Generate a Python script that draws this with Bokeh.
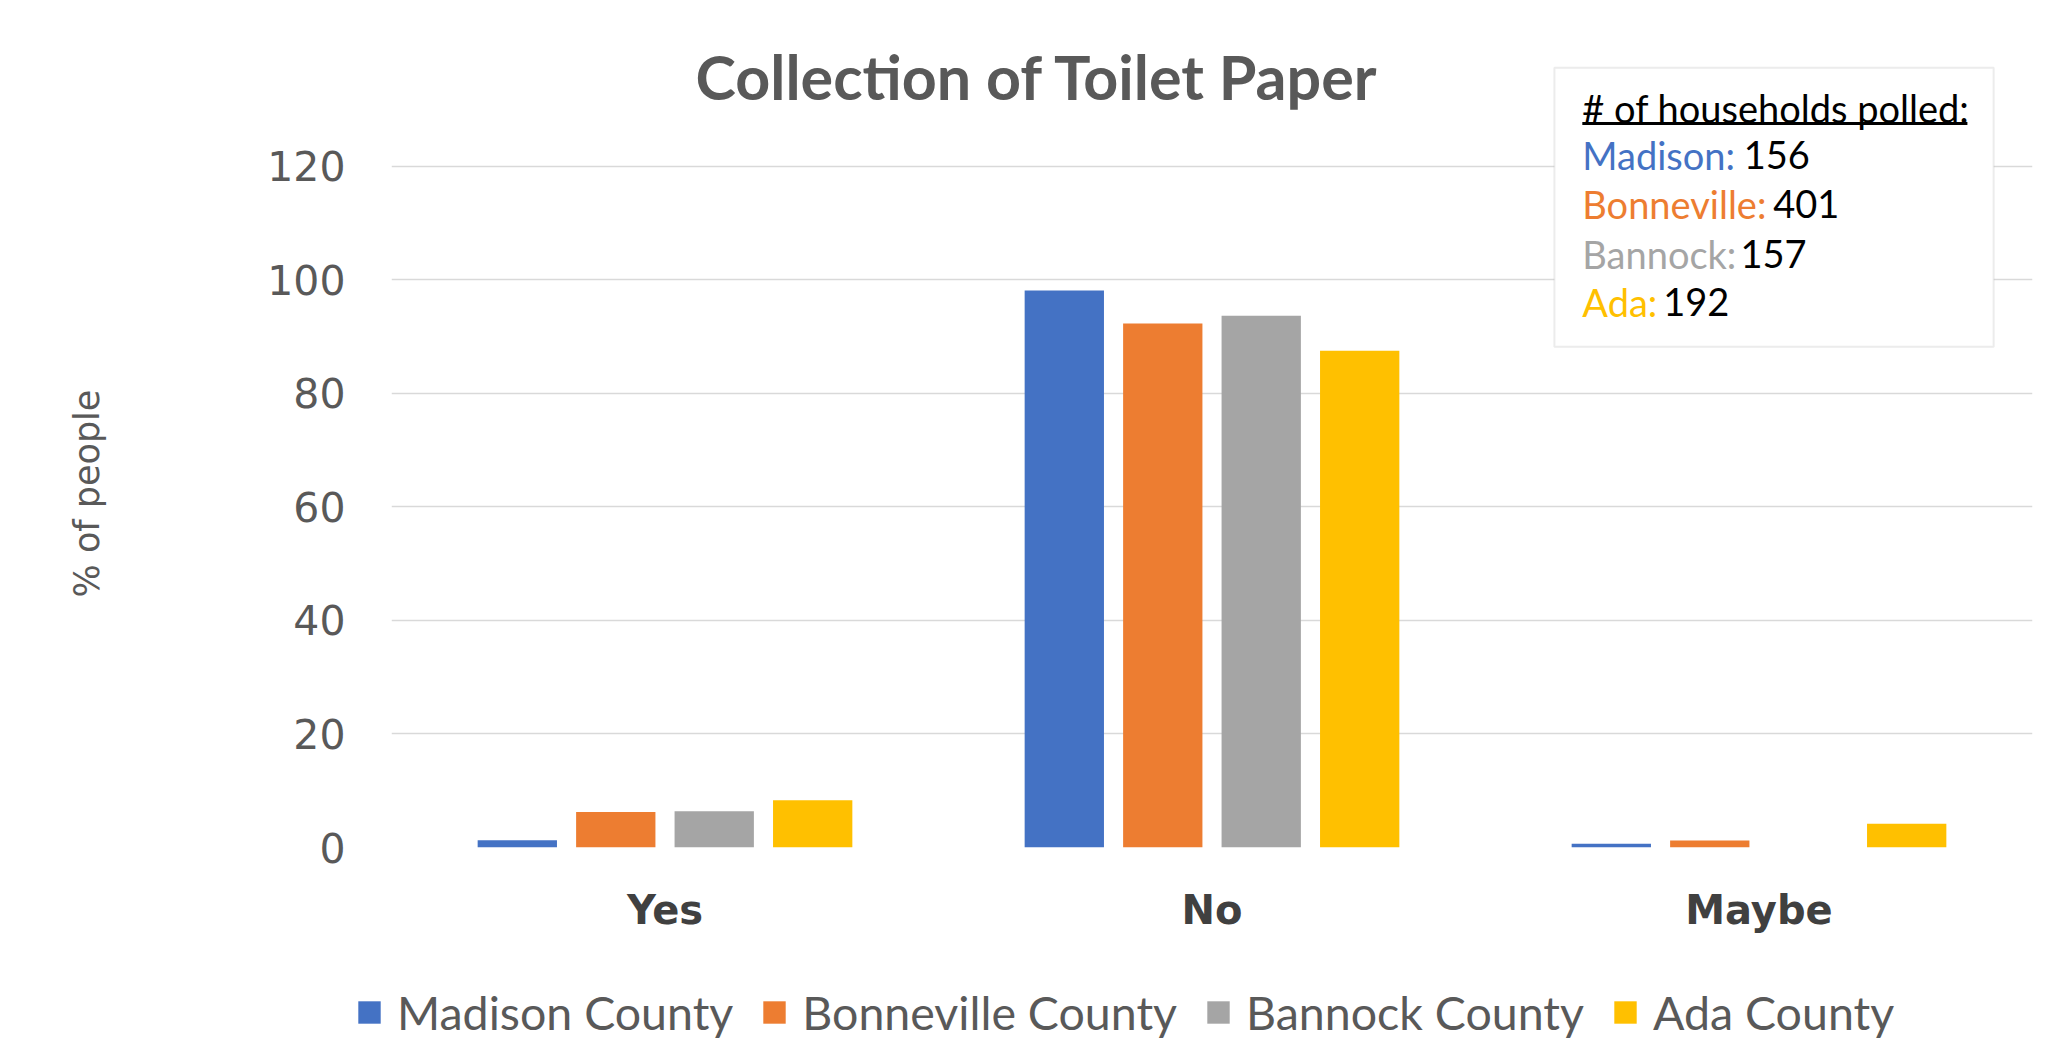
from bokeh.plotting import figure
from bokeh.layouts import column
from bokeh.models import (FactorRange, Range1d, FixedTicker, Label, BoxAnnotation,
                          Legend, LegendItem, ColumnDataSource, Title)
from bokeh.transform import dodge
from bokeh.embed import file_html
from bokeh.resources import INLINE

# ---------------- data ----------------
categories = ["Yes", "No", "Maybe"]
series_names = ["Madison County", "Bonneville County", "Bannock County", "Ada County"]
madison = [1.28, 98.08, 0.64]
bonneville = [6.23, 92.27, 1.25]
bannock = [6.37, 93.63, 0.0]
ada = [8.33, 87.5, 4.17]
short_names = ["Madison", "Bonneville", "Bannock", "Ada"]
households = [156, 401, 157, 192]
y_ticks = [0, 20, 40, 60, 80, 100, 120]

# ---------------- styles / layout ----------------
colors = ["#4472C4", "#ED7D31", "#A5A5A5", "#FFC000"]
offsets = [-0.27, -0.09, 0.09, 0.27]
bar_width = 0.145
number_x = [2.472, 2.526, 2.466, 2.325]
line_y = [121.9, 113.4, 104.6, 96.0]

source = ColumnDataSource(dict(cat=categories, madison=madison, bonneville=bonneville,
                               bannock=bannock, ada=ada))
cols = ["madison", "bonneville", "bannock", "ada"]

p = figure(width=2040, height=940,
           x_range=FactorRange(*categories, range_padding=0),
           y_range=Range1d(0, 147.4),
           min_border_left=391, min_border_right=8, min_border_top=10, min_border_bottom=93,
           toolbar_location=None, output_backend="svg")
p.outline_line_color = None
p.background_fill_color = "white"
p.border_fill_color = "white"

renderers = []
for col, off, c in zip(cols, offsets, colors):
    r = p.vbar(x=dodge("cat", off, range=p.x_range), top=col, width=bar_width,
               source=source, fill_color=c, line_color=None)
    renderers.append(r)

# axes
p.yaxis.ticker = FixedTicker(ticks=y_ticks)
p.yaxis.axis_line_color = None
p.yaxis.major_tick_line_color = None
p.yaxis.minor_tick_line_color = None
p.yaxis.major_label_standoff = 40
p.yaxis.major_label_text_font = "DejaVu Sans"
p.yaxis.major_label_text_font_size = "41px"
p.yaxis.major_label_text_color = "#595959"

p.xaxis.axis_line_color = None
p.xaxis.major_tick_line_color = None
p.xaxis.minor_tick_line_color = None
p.xaxis.major_label_standoff = 33
p.xaxis.major_label_text_font = "DejaVu Sans"
p.xaxis.major_label_text_font_style = "bold"
p.xaxis.major_label_text_font_size = "40px"
p.xaxis.major_label_text_color = "#404040"

p.xgrid.grid_line_color = None
p.ygrid.grid_line_color = "#D9D9D9"
p.ygrid.grid_line_width = 1.5

# y axis title: a gap between tick labels and title, then the title, offset along the axis
p.add_layout(Title(text=" ", standoff=155, text_font_size="1px"), "left")
p.add_layout(Title(text="% of people", align="left", offset=250, standoff=0,
                   text_font="DejaVu Sans", text_font_size="35px", text_font_style="normal",
                   text_color="#595959"), "left")

# chart title
p.add_layout(Label(x=1.181, y=135.7, text="Collection of Toilet Paper",
                   text_font="Lato", text_font_style="bold", text_font_size="61px",
                   text_color="#595959", text_align="center", text_baseline="middle"))

# inset box
p.add_layout(BoxAnnotation(left=2.126, right=2.929, top=137.3, bottom=88.2,
                           fill_color="white", fill_alpha=1.0,
                           line_color="#BFBFBF", line_width=2))
p.add_layout(Label(x=2.177, y=130.3, text="# of households polled:",
                   text_font="Lato", text_font_size="38px", text_color="black",
                   text_baseline="middle"))
p.add_layout(BoxAnnotation(left=2.177, right=2.881, top=127.75, bottom=127.25,
                           fill_color="black", fill_alpha=1.0, line_color=None))
for name, n, c, yy, nx in zip(short_names, households, colors, line_y, number_x):
    p.add_layout(Label(x=2.177, y=yy, text=name + ":", text_font="Lato",
                       text_font_size="38px", text_color=c, text_baseline="middle"))
    p.add_layout(Label(x=nx, y=yy, text=str(n), text_font="Lato",
                       text_font_size="38px", text_color="black", text_baseline="middle"))

# legend strip below the chart (own frame, not aligned with the chart's frame)
q = figure(width=2040, height=100, x_range=Range1d(0, 2040), y_range=Range1d(0, 100),
           min_border_left=0, min_border_right=0, min_border_top=0, min_border_bottom=0,
           x_axis_type=None, y_axis_type=None, frame_align=False,
           toolbar_location=None, output_backend="svg")
q.outline_line_color = None
q.xgrid.visible = False
q.ygrid.visible = False
legend_renderers = [q.vbar(x=[-100], top=[0], width=1, fill_color=c, line_color=None)
                    for c in colors]
legend = Legend(items=[LegendItem(label=s, renderers=[r]) for s, r in zip(series_names, legend_renderers)],
                orientation="horizontal", location=(355, 0),
                label_text_font="Lato", label_text_font_size="46.5px", label_text_color="#595959",
                glyph_width=28, glyph_height=28, label_standoff=14, spacing=27,
                padding=0, margin=0, border_line_color=None, background_fill_alpha=0)
q.add_layout(legend, "center")

layout = column(p, q, spacing=0)
open("out.html", "w").write(file_html(layout, INLINE))
